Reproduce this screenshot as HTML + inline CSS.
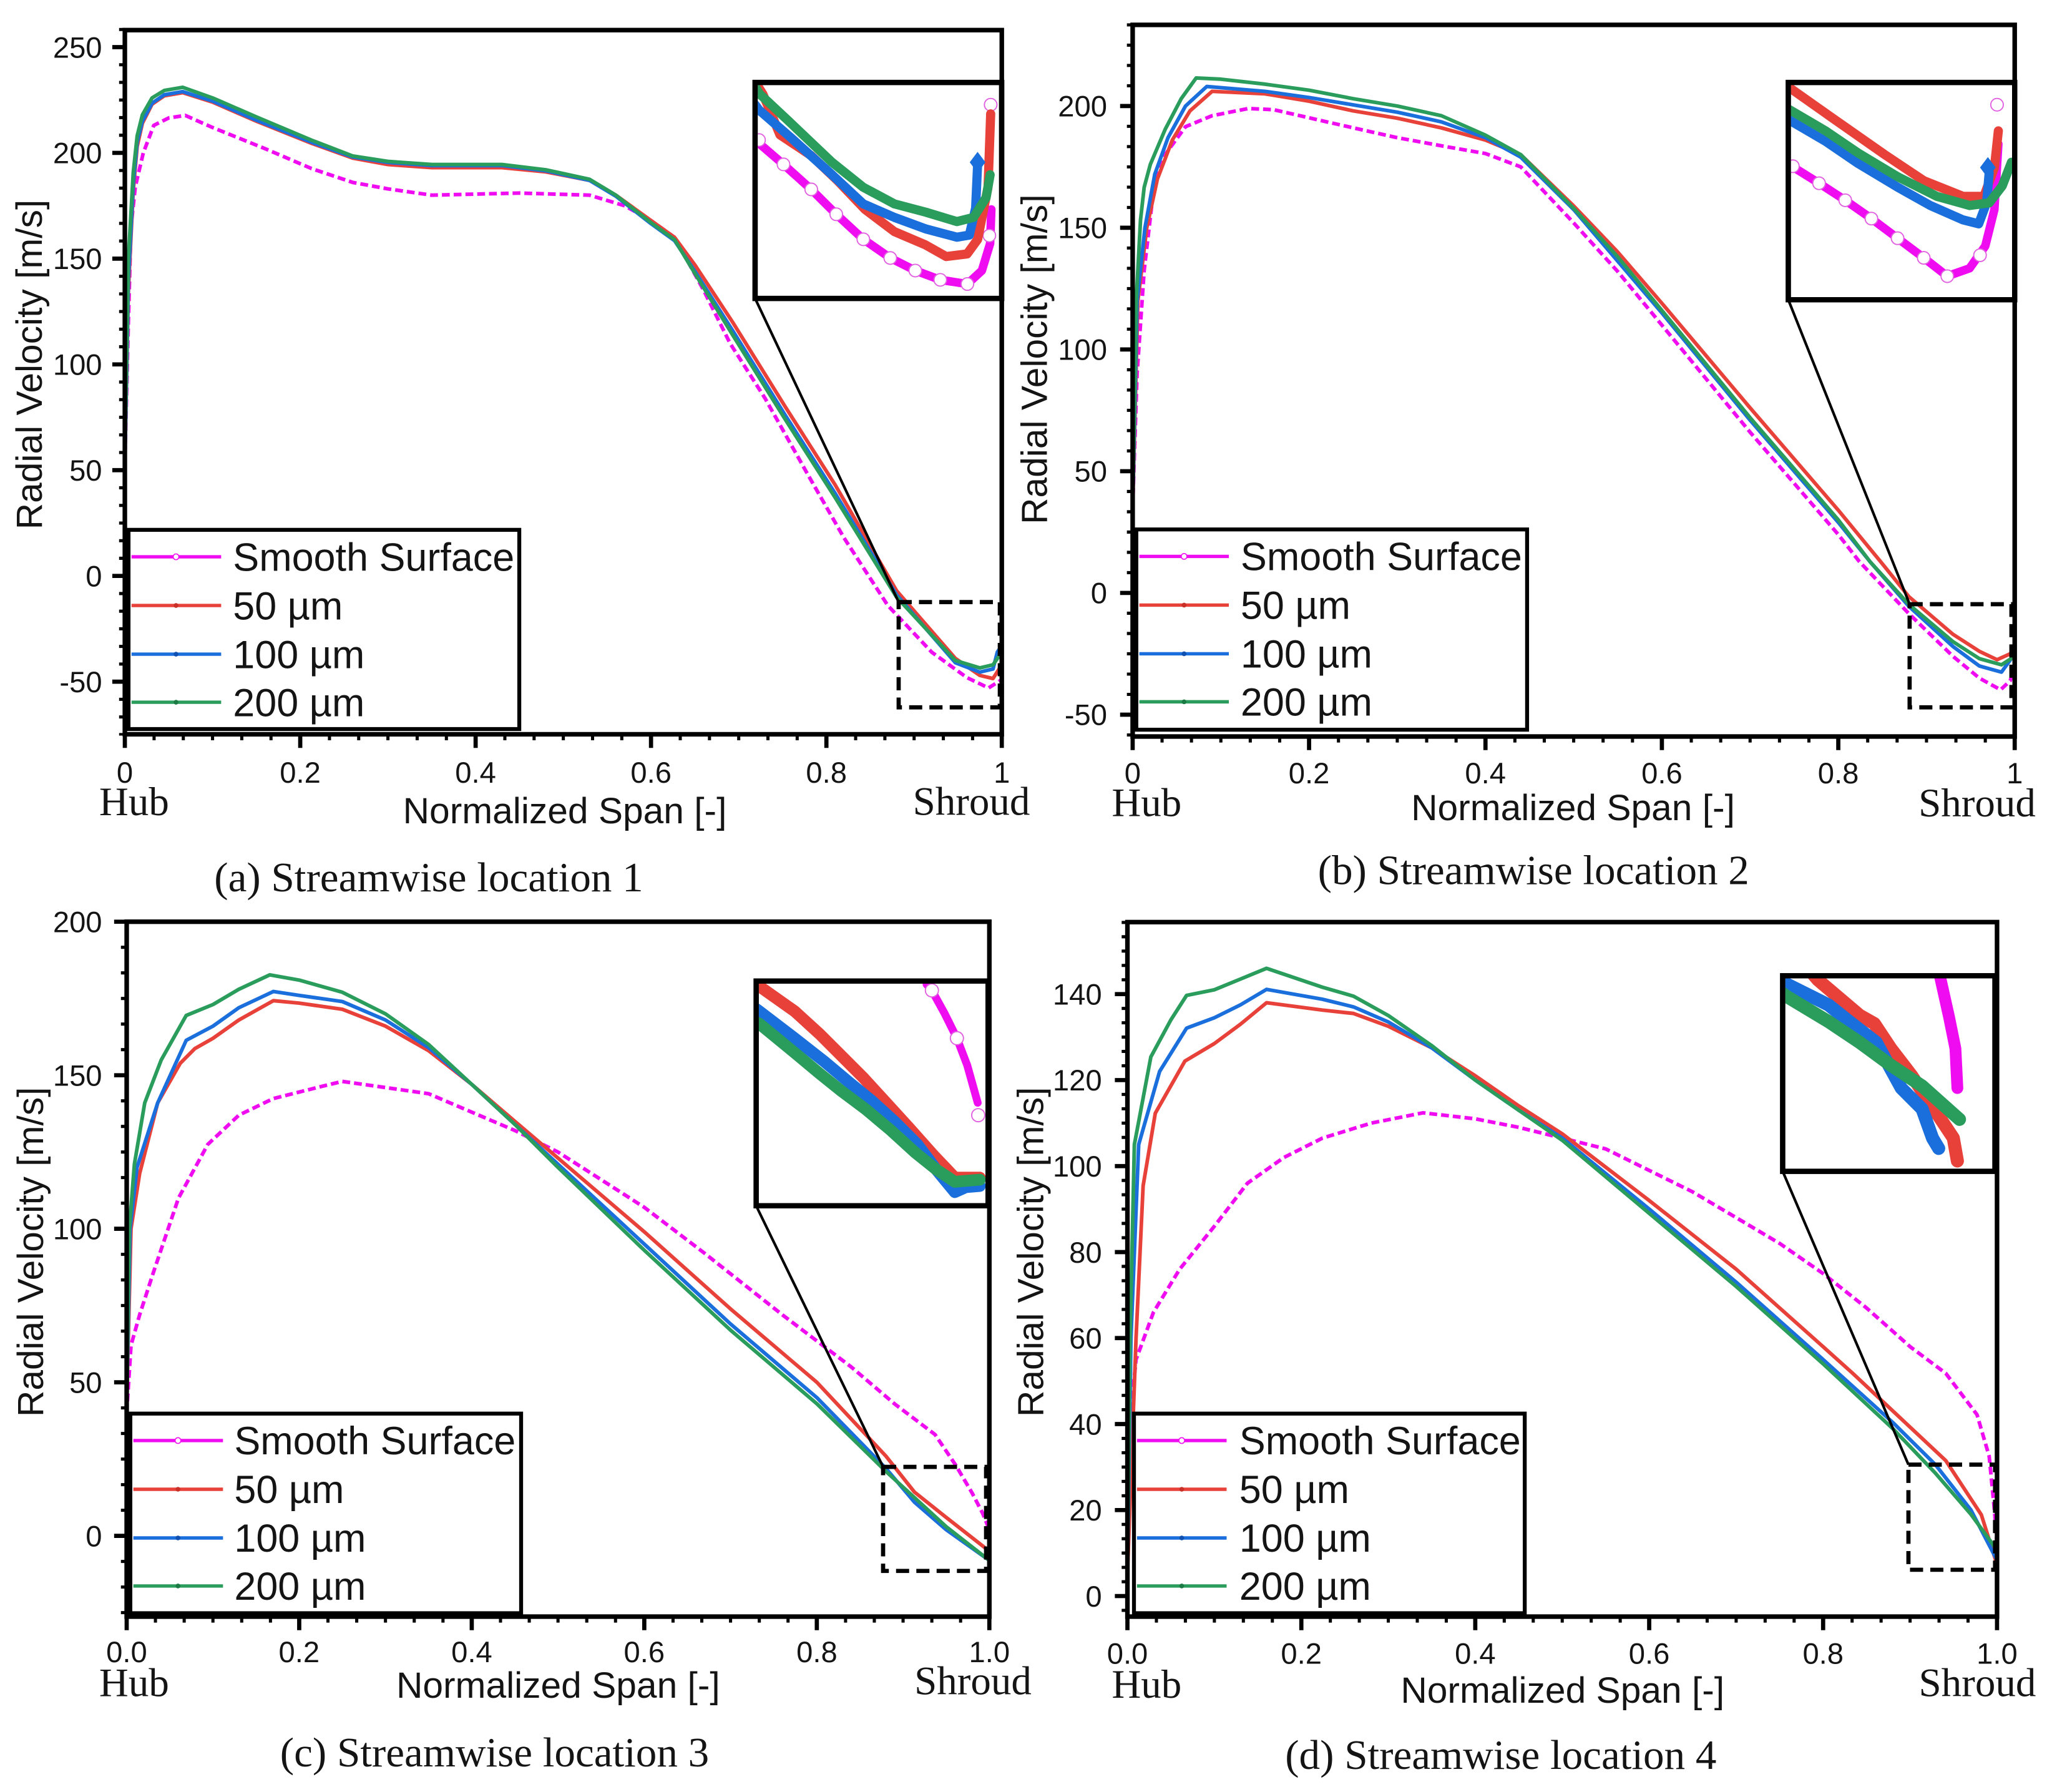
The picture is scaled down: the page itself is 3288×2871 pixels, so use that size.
<!DOCTYPE html>
<html><head><meta charset="utf-8"><style>
html,body{margin:0;padding:0;background:#fff;}
svg{display:block}
.t{font-family:"Liberation Sans",Arial,sans-serif;fill:#141414}
.s{font-family:"Liberation Serif","Times New Roman",serif;fill:#141414}
.tk{font-size:22.5px}
.ax{font-size:28px}
.lg{font-size:30px}
.hs{font-size:31px}
.cp{font-size:32px}
.c{fill:none;stroke-linejoin:round;stroke-linecap:round;stroke-width:2.8}
.sm{stroke:#f00cf0;stroke-dasharray:6 3;stroke-linecap:butt}
.r{stroke:#e8413a}.b{stroke:#1a6fdc}.g{stroke:#2a9d5c}.m{stroke:#f00cf0}
.frame{fill:none;stroke:#000;stroke-width:3.5}
.tick{stroke:#000;fill:none}
.db{fill:none;stroke:#000;stroke-width:3.2;stroke-dasharray:10 5.5}
.ib{fill:#fff;stroke:#000;stroke-width:4}
.ic{fill:none;stroke-linejoin:round;stroke-linecap:round}
.oc{fill:#fff;stroke:#e060e0;stroke-width:0.9}
</style></head><body>
<svg xmlns="http://www.w3.org/2000/svg" width="3288" height="2871" viewBox="0 0 1568 1369.1" preserveAspectRatio="none">
<rect x="0" y="0" width="1568" height="1369.1" fill="#fff"/>
<defs>
<clipPath id="pa"><rect x="95.4" y="23" width="670.1" height="538"/></clipPath>
<clipPath id="pb"><rect x="865.5" y="19" width="674" height="543.7"/></clipPath>
<clipPath id="pc"><rect x="96.8" y="704.2" width="659.2" height="530.9"/></clipPath>
<clipPath id="pd"><rect x="861.5" y="704.5" width="664.5" height="530.6"/></clipPath>
<clipPath id="ia"><rect x="579" y="65" width="184.4" height="161"/></clipPath>
<clipPath id="ib"><rect x="1368.5" y="65" width="169" height="162"/></clipPath>
<clipPath id="icc"><rect x="579.8" y="751.5" width="173.2" height="167.7"/></clipPath>
<clipPath id="id"><rect x="1364.2" y="747.5" width="158.2" height="145.4"/></clipPath>
</defs>

<!-- ================= PANEL A ================= -->
<g clip-path="url(#pa)">
<polyline class="c sm" points="95.4,356.0 98.1,246.1 100.1,173.4 103.4,142.7 109.5,116.8 117.5,95.8 128.9,90.1 141.6,88.2 162.4,97.4 202.6,113.6 238.1,128.8 269.6,139.4 296.4,144.3 329.9,149.1 363.4,148.3 397.0,147.5 450.5,149.1 477.4,157.2 497.5,168.5 515.5,181.4 537.7,221.8 557.8,262.2 584.6,304.3 618.1,364.0 644.9,410.9 678.4,462.6 711.9,498.2 738.7,517.6 755.4,525.6 765.5,519.2"/>
<polyline class="c r" points="95.4,356.0 98.1,221.8 101.8,145.9 104.8,112.0 108.8,94.2 116.2,79.6 125.6,73.2 139.6,70.8 162.4,78.0 195.9,92.6 238.1,109.5 269.6,120.8 296.4,125.7 329.9,128.1 383.5,128.1 417.0,131.3 450.5,137.8 470.6,149.1 497.5,168.5 515.5,181.4 531.0,202.4 559.8,246.1 600.0,310.7 638.2,370.5 685.1,451.3 730.0,503.0 748.7,516.0 758.8,518.4 765.5,507.9"/>
<polyline class="c b" points="95.4,356.0 98.1,213.8 101.8,141.0 104.8,108.7 108.8,92.6 116.2,78.8 125.6,72.4 139.6,70.0 162.4,77.2 195.9,91.8 238.1,108.7 269.6,120.0 296.4,124.1 329.9,126.5 383.5,126.5 417.0,130.5 450.5,137.8 470.6,149.9 497.5,170.9 515.5,183.9 531.0,207.3 559.8,252.5 600.0,317.2 638.2,377.0 685.1,454.5 730.0,506.3 748.7,513.5 758.8,511.1 762.1,498.2 765.5,493.3"/>
<polyline class="c g" points="95.4,351.1 98.1,197.6 101.8,132.0 104.8,103.9 108.8,87.7 116.2,74.8 125.6,69.1 139.6,66.7 162.4,74.8 195.9,89.3 238.1,107.1 269.6,119.2 296.4,123.3 329.9,125.7 383.5,125.7 417.0,129.7 450.5,137.0 470.6,149.1 497.5,170.1 515.5,183.1 531.0,208.9 559.8,255.8 600.0,320.4 638.2,380.2 685.1,456.2 730.0,504.6 748.7,510.3 758.8,507.9 765.5,498.2"/>
</g>
<rect class="db" x="686.7" y="460" width="77.3" height="80.4"/>
<line x1="577" y1="228" x2="686.7" y2="460" stroke="#000" stroke-width="2"/>
<rect class="ib" x="577" y="63" width="188.4" height="165"/>
<g clip-path="url(#ia)">
<polyline class="ic m" stroke-width="6.5" points="577,106 580.2,109.7 598.7,125.6 619.9,144.7 639,163.7 659.7,182.8 680.3,197.1 699.4,206.7 718.5,213.8 739.2,217 750.3,206.7 756.6,186 757.5,160"/>
<g class="oc"><circle cx="580" cy="107" r="4.8"/><circle cx="598.7" cy="125.6" r="4.8"/><circle cx="619.9" cy="144.7" r="4.8"/><circle cx="639" cy="163.7" r="4.8"/><circle cx="659.7" cy="182.8" r="4.8"/><circle cx="680.3" cy="197.1" r="4.8"/><circle cx="699.4" cy="206.7" r="4.8"/><circle cx="718.5" cy="213.8" r="4.8"/><circle cx="739.2" cy="217" r="4.8"/><circle cx="756" cy="180" r="4.8"/><circle cx="757" cy="80" r="4.8"/></g>
<polyline class="ic r" stroke-width="7" points="578,64 583,72 596,103 620,119 640,138 661,160 683.5,177 707,187 723,196 739,194 747,183 755,143 757,87"/>
<polyline class="ic b" stroke-width="7" points="577,80 580.2,84.2 604,104.9 635.8,133.5 659.7,155.8 683.5,166.1 707.4,174.9 731.2,181.2 740.7,179.6 745.5,159 747.1,124"/>
<polygon points="747,116 753,124 747,132 741,124" fill="#1a6fdc"/>
<polyline class="ic g" stroke-width="7" points="577,66 580.2,71.5 604,93.8 635.8,124 659.7,143.1 683.5,155.8 707.4,162.1 731.2,169.3 743.9,166.1 753.5,151 756.6,133.5"/>
</g>
<rect x="577" y="63" width="188.4" height="165" fill="none" stroke="#000" stroke-width="4"/>
<rect x="98.2" y="404.8" width="298.6" height="152.2" fill="#fff" stroke="#000" stroke-width="3"/>
<line x1="100.5" y1="425.4" x2="169" y2="425.4" stroke="#f00cf0" stroke-width="2.6"/><circle cx="134.5" cy="425.4" r="2.2" fill="#fff" stroke="#f00cf0" stroke-width="0.8"/>
<line x1="100.5" y1="462.6" x2="169" y2="462.6" stroke="#e8413a" stroke-width="2.6"/><circle cx="134.5" cy="462.6" r="1.8" fill="#c83028"/>
<line x1="100.5" y1="499.8" x2="169" y2="499.8" stroke="#1a6fdc" stroke-width="2.6"/><circle cx="134.5" cy="499.8" r="1.8" fill="#1050b0"/>
<line x1="100.5" y1="536.5" x2="169" y2="536.5" stroke="#2a9d5c" stroke-width="2.6"/><circle cx="134.5" cy="536.5" r="1.8" fill="#1c7a44"/>
<text class="t lg" x="178" y="436">Smooth Surface</text>
<text class="t lg" x="178" y="473.2">50 µm</text>
<text class="t lg" x="178" y="510.4">100 µm</text>
<text class="t lg" x="178" y="547.1">200 µm</text>
<rect class="frame" x="95.4" y="23" width="670.1" height="538"/>
<line class="tick" x1="93.2" y1="21.33" x2="93.2" y2="562" stroke-width="4.4" stroke-dasharray="2.4 11.067"/>
<line class="tick" x1="90.6" y1="34.4" x2="90.6" y2="525" stroke-width="9.6" stroke-dasharray="3.2 77.6"/>
<line class="tick" x1="94.2" y1="563.3" x2="767" y2="563.3" stroke-width="4.6" stroke-dasharray="2.4 19.937"/>
<line class="tick" x1="93.8" y1="566.2" x2="768" y2="566.2" stroke-width="10.4" stroke-dasharray="3.2 130.82"/>
<g class="t tk" text-anchor="end">
<text x="78" y="44">250</text><text x="78" y="124.8">200</text><text x="78" y="205.6">150</text><text x="78" y="286.4">100</text><text x="78" y="367.2">50</text><text x="78" y="448">0</text><text x="78" y="528.8">-50</text>
</g>
<g class="t tk" text-anchor="middle">
<text x="95.4" y="598">0</text><text x="229.4" y="598">0.2</text><text x="363.4" y="598">0.4</text><text x="497.5" y="598">0.6</text><text x="631.5" y="598">0.8</text><text x="765.5" y="598">1</text>
</g>
<text class="t ax" text-anchor="middle" transform="translate(32,278.5) rotate(-90)">Radial Velocity [m/s]</text>
<text class="t ax" text-anchor="middle" x="431.6" y="629">Normalized Span [-]</text>
<text class="s hs" x="75.8" y="622.8">Hub</text>
<text class="s hs" x="697.5" y="622.5">Shroud</text>
<text class="s cp" x="163.7" y="681">(a) Streamwise location 1</text>

<!-- ================= PANEL B ================= -->
<g clip-path="url(#pb)">
<polyline class="c sm" points="865.5,387.9 868.9,285.6 874.3,206.5 880.7,151.7 887.1,122.5 905.9,96.8 926.2,88.4 953.8,82.9 973.3,83.8 1013.8,93.1 1067.7,105.2 1108.1,112.6 1135.1,117.3 1162.1,127.5 1202.5,170.3 1236.2,207.5 1269.9,248.4 1337.3,330.2 1404.7,408.4 1420.9,429.2 1458.6,468.8 1492.3,501.4 1512.5,518.1 1528.7,527.0 1536.1,520.0 1539.5,508.8"/>
<polyline class="c r" points="865.5,387.9 869.5,229.8 876.3,174.0 884.4,136.8 895.8,107.0 909.3,84.7 926.2,69.8 966.6,71.7 1000.3,77.3 1034.0,84.7 1067.7,90.3 1101.4,97.7 1135.1,107.0 1162.1,118.2 1202.5,157.3 1236.2,192.6 1269.9,231.7 1337.3,311.6 1404.7,389.8 1437.1,429.2 1458.6,455.8 1492.3,484.6 1512.5,497.6 1526.0,504.0 1536.1,499.5 1539.5,493.9"/>
<polyline class="c b" points="865.5,387.9 868.9,229.8 874.9,174.0 882.4,133.1 892.5,105.2 905.9,81.0 922.1,66.1 966.6,69.8 1000.3,74.5 1034.0,80.1 1067.7,85.7 1101.4,93.1 1135.1,105.2 1162.1,120.1 1202.5,160.1 1269.9,239.1 1337.3,321.0 1404.7,399.1 1429.0,429.2 1458.6,463.2 1492.3,493.9 1512.5,508.8 1529.4,513.5 1539.5,499.5"/>
<polyline class="c g" points="865.5,387.9 868.2,229.8 871.5,168 874.3,143.1 879.0,125.6 890.4,98.7 902.6,75.4 914.0,59.6 932.9,60.5 966.6,64.3 1000.3,68.9 1034.0,75.4 1067.7,81.0 1101.4,88.4 1135.1,103.3 1162.1,118.2 1202.5,159.1 1236.2,196.3 1269.9,237.2 1337.3,319.1 1404.7,397.2 1429.0,429.2 1458.6,461.7 1492.3,490.2 1512.5,503.2 1529.4,507.9 1539.5,501.4"/>
</g>
<rect class="db" x="1459.2" y="461.6" width="77.8" height="78.8"/>
<line x1="1366.5" y1="229" x2="1459.2" y2="461.6" stroke="#000" stroke-width="2"/>
<rect class="ib" x="1366.5" y="63" width="173" height="166"/>
<g clip-path="url(#ib)">
<polyline class="ic m" stroke-width="6.5" points="1366,125 1390,140 1410,153 1430,167 1450,182 1470,197 1488,211 1505,205 1517,188 1524,160 1527,110"/>
<g class="oc"><circle cx="1370" cy="127" r="4.8"/><circle cx="1390" cy="140" r="4.8"/><circle cx="1410" cy="153" r="4.8"/><circle cx="1430" cy="167" r="4.8"/><circle cx="1450" cy="182" r="4.8"/><circle cx="1470" cy="197" r="4.8"/><circle cx="1488" cy="211" r="4.8"/><circle cx="1513" cy="195" r="4.8"/><circle cx="1526" cy="80" r="4.8"/></g>
<polyline class="ic r" stroke-width="7" points="1366,66 1400,90 1440,118 1470,138 1500,150 1516,150 1524,128 1527,100"/>
<polyline class="ic b" stroke-width="7" points="1366,91 1395,108 1420,125 1450,143 1475,157 1500,168 1512,171 1518,155 1520,132"/>
<polygon points="1519,120 1525,128 1519,136 1513,128" fill="#1a6fdc"/>
<polyline class="ic g" stroke-width="7" points="1366,83 1395,100 1420,117 1450,135 1480,150 1505,157 1520,155 1530,142 1537,124"/>
</g>
<rect x="1366.5" y="63" width="173" height="166" fill="none" stroke="#000" stroke-width="4"/>
<rect x="868.3" y="404.5" width="298.6" height="153" fill="#fff" stroke="#000" stroke-width="3"/>
<line x1="870.6" y1="425.1" x2="939" y2="425.1" stroke="#f00cf0" stroke-width="2.6"/><circle cx="904.8" cy="425.1" r="2.2" fill="#fff" stroke="#f00cf0" stroke-width="0.8"/>
<line x1="870.6" y1="462.3" x2="939" y2="462.3" stroke="#e8413a" stroke-width="2.6"/><circle cx="904.8" cy="462.3" r="1.8" fill="#c83028"/>
<line x1="870.6" y1="499.5" x2="939" y2="499.5" stroke="#1a6fdc" stroke-width="2.6"/><circle cx="904.8" cy="499.5" r="1.8" fill="#1050b0"/>
<line x1="870.6" y1="536.2" x2="939" y2="536.2" stroke="#2a9d5c" stroke-width="2.6"/><circle cx="904.8" cy="536.2" r="1.8" fill="#1c7a44"/>
<text class="t lg" x="948" y="435.7">Smooth Surface</text>
<text class="t lg" x="948" y="472.9">50 µm</text>
<text class="t lg" x="948" y="510.1">100 µm</text>
<text class="t lg" x="948" y="546.8">200 µm</text>
<rect class="frame" x="865.5" y="19" width="674" height="543.7"/>
<line class="tick" x1="863.3" y1="17.8" x2="863.3" y2="564" stroke-width="4.4" stroke-dasharray="2.4 13.1"/>
<line class="tick" x1="860.7" y1="79.4" x2="860.7" y2="550" stroke-width="9.6" stroke-dasharray="3.2 89.8"/>
<line class="tick" x1="864.3" y1="565.0" x2="1541" y2="565.0" stroke-width="4.6" stroke-dasharray="2.4 20.067"/>
<line class="tick" x1="863.9" y1="567.9" x2="1542" y2="567.9" stroke-width="10.4" stroke-dasharray="3.2 131.6"/>
<g class="t tk" text-anchor="end">
<text x="846" y="89">200</text><text x="846" y="182">150</text><text x="846" y="275">100</text><text x="846" y="368">50</text><text x="846" y="461">0</text><text x="846" y="554">-50</text>
</g>
<g class="t tk" text-anchor="middle">
<text x="865.5" y="598.5">0</text><text x="1000.3" y="598.5">0.2</text><text x="1135.1" y="598.5">0.4</text><text x="1269.9" y="598.5">0.6</text><text x="1404.7" y="598.5">0.8</text><text x="1539.5" y="598.5">1</text>
</g>
<text class="t ax" text-anchor="middle" transform="translate(800,274.5) rotate(-90)">Radial Velocity [m/s]</text>
<text class="t ax" text-anchor="middle" x="1202" y="626.5">Normalized Span [-]</text>
<text class="s hs" x="849.5" y="623.5">Hub</text>
<text class="s hs" x="1466" y="623.8">Shroud</text>
<text class="s cp" x="1007" y="675.5">(b) Streamwise location 2</text>

<!-- ================= PANEL C ================= -->
<g clip-path="url(#pc)">
<polyline class="c sm" points="96.8,1079.6 100.1,1027.9 106.7,1004.5 116.6,974.0 136.4,915.3 158.8,874.3 182.5,852.0 208.9,839.3 247.1,829.7 261.6,826.2 294.6,830.9 327.5,835.6 360.5,849.7 393.4,863.7 426.4,880.2 459.4,901.3 492.3,922.4 538.5,957.6 597.8,1004.5 650.5,1044.4 683.5,1072.5 714.5,1096.0 730.3,1119.4 742.8,1140.6 750.7,1155.8 756.0,1168.7"/>
<polyline class="c r" points="96.8,1074.9 100.1,938.8 106.7,896.6 120.5,842.6 137.7,812.4 148.9,801.1 162.7,793.3 182.5,779.3 208.9,764.5 228.6,766.4 261.6,771.1 294.6,784.0 327.5,802.7 360.5,828.5 393.4,856.7 426.4,884.8 492.3,941.1 558.2,1000.0 624.2,1056.1 676.9,1112.4 698.7,1139.9 723.0,1159.3 756.0,1185.1"/>
<polyline class="c b" points="96.8,1074.9 99.4,938.8 104.7,891.9 120.5,842.6 142.3,794.8 162.7,784.0 182.5,769.9 208.9,757.5 228.6,760.5 261.6,765.2 294.6,779.3 327.5,800.4 360.5,828.5 393.4,859.0 426.4,889.5 492.3,950.5 558.2,1011.5 624.2,1067.8 676.9,1121.8 698.7,1147.6 723.0,1168.7 756.0,1192.2"/>
<polyline class="c g" points="96.8,1074.9 98.8,938.8 102.7,889.5 110.6,842.6 123.2,809.8 142.3,775.8 162.7,767.5 182.5,755.8 206.2,744.8 228.6,748.8 261.6,758.1 294.6,774.6 327.5,798.0 360.5,828.5 393.4,859.0 426.4,891.9 492.3,955.2 558.2,1016.2 624.2,1072.5 676.9,1124.1 723.0,1166.4 756.0,1192.2"/>
</g>
<rect class="db" x="674.8" y="1120.7" width="78.7" height="79.5"/>
<line x1="577.8" y1="921.2" x2="674.8" y2="1120.7" stroke="#000" stroke-width="2"/>
<rect class="ib" x="577.8" y="749.5" width="177.2" height="171.7"/>
<g clip-path="url(#icc)">
<polyline class="ic m" stroke-width="6" points="708,752 712.1,756.7 721.7,774.1 731.2,793.2 739.1,813.9 747.1,842.5"/>
<g class="oc"><circle cx="712.1" cy="756.7" r="5"/><circle cx="731.2" cy="793.2" r="5"/><circle cx="747.5" cy="852" r="5"/></g>
<polyline class="ic r" stroke-width="9" points="578,751 580.2,753.5 607.2,772.6 626.3,790 642.2,805.9 659.7,823.4 677.2,842.5 694.6,861.6 713.7,883 729.6,899.7 748.7,899.7"/>
<polyline class="ic b" stroke-width="9" points="578,771 580.2,772.6 607.2,793.2 629.5,810.7 648.5,826.6 666,840.9 683.5,856.8 701,874.3 715.3,893.4 729.6,910.8 738,907 748.7,906.1"/>
<polyline class="ic g" stroke-width="9" points="578,781 580.2,782.1 607.2,804.3 626.3,820.2 642.2,833 661.3,847.3 680.3,863.2 699.4,880.6 715.3,893.4 729.6,902.9 748.7,901.3"/>
</g>
<rect x="577.8" y="749.5" width="177.2" height="171.7" fill="none" stroke="#000" stroke-width="4"/>
<rect x="99.6" y="1080" width="298.6" height="152.5" fill="#fff" stroke="#000" stroke-width="3"/>
<line x1="101.9" y1="1100.6" x2="170.4" y2="1100.6" stroke="#f00cf0" stroke-width="2.6"/><circle cx="136" cy="1100.6" r="2.2" fill="#fff" stroke="#f00cf0" stroke-width="0.8"/>
<line x1="101.9" y1="1137.8" x2="170.4" y2="1137.8" stroke="#e8413a" stroke-width="2.6"/><circle cx="136" cy="1137.8" r="1.8" fill="#c83028"/>
<line x1="101.9" y1="1175" x2="170.4" y2="1175" stroke="#1a6fdc" stroke-width="2.6"/><circle cx="136" cy="1175" r="1.8" fill="#1050b0"/>
<line x1="101.9" y1="1211.7" x2="170.4" y2="1211.7" stroke="#2a9d5c" stroke-width="2.6"/><circle cx="136" cy="1211.7" r="1.8" fill="#1c7a44"/>
<text class="t lg" x="179" y="1111.2">Smooth Surface</text>
<text class="t lg" x="179" y="1148.4">50 µm</text>
<text class="t lg" x="179" y="1185.6">100 µm</text>
<text class="t lg" x="179" y="1222.3">200 µm</text>
<rect class="frame" x="96.8" y="704.2" width="659.2" height="530.9"/>
<line class="tick" x1="94.6" y1="703" x2="94.6" y2="1236" stroke-width="4.4" stroke-dasharray="2.4 17.15"/>
<line class="tick" x1="92.0" y1="702.6" x2="92.0" y2="1176" stroke-width="9.6" stroke-dasharray="3.2 114.1"/>
<line class="tick" x1="95.6" y1="1237.4" x2="757.5" y2="1237.4" stroke-width="4.6" stroke-dasharray="2.4 19.573"/>
<line class="tick" x1="95.2" y1="1240.3" x2="758" y2="1240.3" stroke-width="10.4" stroke-dasharray="3.2 128.64"/>
<g class="t tk" text-anchor="end">
<text x="78" y="712.2">200</text><text x="78" y="829.5">150</text><text x="78" y="946.8">100</text><text x="78" y="1064.1">50</text><text x="78" y="1181.4">0</text>
</g>
<g class="t tk" text-anchor="middle">
<text x="96.8" y="1270">0.0</text><text x="228.6" y="1270">0.2</text><text x="360.5" y="1270">0.4</text><text x="492.3" y="1270">0.6</text><text x="624.2" y="1270">0.8</text><text x="756" y="1270">1.0</text>
</g>
<text class="t ax" text-anchor="middle" transform="translate(33,956.5) rotate(-90)">Radial Velocity [m/s]</text>
<text class="t ax" text-anchor="middle" x="426.5" y="1297">Normalized Span [-]</text>
<text class="s hs" x="75.8" y="1296">Hub</text>
<text class="s hs" x="698.7" y="1294.5">Shroud</text>
<text class="s cp" x="214" y="1349.5">(c) Streamwise location 3</text>

<!-- ================= PANEL D ================= -->
<g clip-path="url(#pd)">
<polyline class="c sm" points="861.5,1104.4 868.1,1038.7 881.4,1002.6 901.4,969.7 927.9,936.9 953.2,904.0 981.1,884.3 1010.4,869.6 1047.6,858.1 1087.4,850.2 1127.3,854.8 1160.5,861.3 1193.8,869.5 1227.0,877.8 1260.2,894.2 1293.4,910.6 1326.7,930.3 1359.9,950.0 1393.1,973.0 1426.3,999.3 1459.6,1028.9 1486.8,1049.2 1510.7,1080.8 1520.0,1112.6 1524.0,1153.7 1526.0,1180.0"/>
<polyline class="c r" points="861.5,1203.0 868.1,1022.3 873.5,906.0 882.8,850.5 905.4,810.7 927.9,797.3 947.9,782.5 967.8,766.1 1010.4,771.7 1034.3,774.3 1060.9,784.1 1094.1,800.6 1127.3,821.9 1160.5,844.9 1193.8,866.3 1260.2,917.2 1326.7,969.7 1393.1,1028.9 1415.7,1049.2 1486.8,1115.9 1514.0,1157.3 1526.0,1195.4"/>
<polyline class="c b" points="861.5,1203.0 864.2,1022.3 870.1,874.5 886.1,818.6 906.7,785.5 927.9,777.6 947.9,767.7 967.8,755.9 1010.4,763.4 1034.3,769.3 1060.9,780.8 1094.1,800.6 1127.3,825.2 1160.5,848.2 1193.8,869.5 1260.2,923.7 1326.7,979.6 1393.1,1038.7 1446.9,1087.3 1478.8,1118.9 1506.1,1153.7 1526.0,1192.1"/>
<polyline class="c g" points="861.5,1203.0 863.5,1022.3 866.8,874.5 879.4,807.5 894.7,779.2 906.7,760.5 927.9,756.2 947.9,748.0 967.8,739.8 1010.4,754.2 1034.3,761.1 1060.9,775.9 1094.1,798.9 1127.3,825.2 1160.5,848.2 1193.8,871.2 1260.2,927.0 1326.7,982.9 1393.1,1042.0 1446.9,1092.0 1478.8,1125.4 1506.1,1157.0 1526.0,1184.3"/>
</g>
<rect class="db" x="1458.3" y="1119" width="66.2" height="80.3"/>
<line x1="1362.2" y1="894.9" x2="1458.3" y2="1119" stroke="#000" stroke-width="2"/>
<rect class="ib" x="1362.2" y="745.5" width="162.2" height="149.4"/>
<g clip-path="url(#id)">
<polyline class="ic r" stroke-width="10" points="1386,745 1389.2,748.7 1421,775.7 1432.2,782 1444.9,801.1 1460.8,821.8 1476.7,845.6 1492.6,869.5 1495.7,887"/>
<polyline class="ic b" stroke-width="10" points="1362,749 1365.4,751.9 1397.2,767.8 1413.1,780.5 1433.7,796.4 1452.8,831.3 1468.7,847.2 1476.7,869.5 1481.4,877.4"/>
<polyline class="ic g" stroke-width="10" points="1362,759 1365.4,761.4 1397.2,780.5 1421,796.4 1444.9,813.9 1468.7,829.7 1497.3,855.2"/>
<polyline class="ic m" stroke-width="9" stroke-linecap="butt" points="1482.2,745 1489.4,777.3 1494.2,801.1 1495.7,831.3"/>
</g>
<rect x="1362.2" y="745.5" width="162.2" height="149.4" fill="none" stroke="#000" stroke-width="4"/>
<rect x="866.5" y="1080" width="298.6" height="152.5" fill="#fff" stroke="#000" stroke-width="3"/>
<line x1="868.8" y1="1100.6" x2="937.3" y2="1100.6" stroke="#f00cf0" stroke-width="2.6"/><circle cx="903" cy="1100.6" r="2.2" fill="#fff" stroke="#f00cf0" stroke-width="0.8"/>
<line x1="868.8" y1="1137.8" x2="937.3" y2="1137.8" stroke="#e8413a" stroke-width="2.6"/><circle cx="903" cy="1137.8" r="1.8" fill="#c83028"/>
<line x1="868.8" y1="1175" x2="937.3" y2="1175" stroke="#1a6fdc" stroke-width="2.6"/><circle cx="903" cy="1175" r="1.8" fill="#1050b0"/>
<line x1="868.8" y1="1211.7" x2="937.3" y2="1211.7" stroke="#2a9d5c" stroke-width="2.6"/><circle cx="903" cy="1211.7" r="1.8" fill="#1c7a44"/>
<text class="t lg" x="947" y="1111.2">Smooth Surface</text>
<text class="t lg" x="947" y="1148.4">50 µm</text>
<text class="t lg" x="947" y="1185.6">100 µm</text>
<text class="t lg" x="947" y="1222.3">200 µm</text>
<rect class="frame" x="861.5" y="704.5" width="664.5" height="530.6"/>
<line class="tick" x1="859.3" y1="703.55" x2="859.3" y2="1236" stroke-width="4.4" stroke-dasharray="2.4 8.55"/>
<line class="tick" x1="856.7" y1="757.9" x2="856.7" y2="1222" stroke-width="9.6" stroke-dasharray="3.2 62.5"/>
<line class="tick" x1="860.3" y1="1237.4" x2="1527.5" y2="1237.4" stroke-width="4.6" stroke-dasharray="2.4 19.75"/>
<line class="tick" x1="859.9" y1="1240.3" x2="1528" y2="1240.3" stroke-width="10.4" stroke-dasharray="3.2 129.7"/>
<g class="t tk" text-anchor="end">
<text x="842" y="767.5">140</text><text x="842" y="833.2">120</text><text x="842" y="898.9">100</text><text x="842" y="964.6">80</text><text x="842" y="1030.3">60</text><text x="842" y="1096">40</text><text x="842" y="1161.7">20</text><text x="842" y="1227.4">0</text>
</g>
<g class="t tk" text-anchor="middle">
<text x="861.5" y="1271">0.0</text><text x="994.4" y="1271">0.2</text><text x="1127.3" y="1271">0.4</text><text x="1260.2" y="1271">0.6</text><text x="1393.1" y="1271">0.8</text><text x="1526" y="1271">1.0</text>
</g>
<text class="t ax" text-anchor="middle" transform="translate(797,956.5) rotate(-90)">Radial Velocity [m/s]</text>
<text class="t ax" text-anchor="middle" x="1194" y="1301">Normalized Span [-]</text>
<text class="s hs" x="849.5" y="1297">Hub</text>
<text class="s hs" x="1466.2" y="1296">Shroud</text>
<text class="s cp" x="982" y="1351.5">(d) Streamwise location 4</text>
</svg>
</body></html>
